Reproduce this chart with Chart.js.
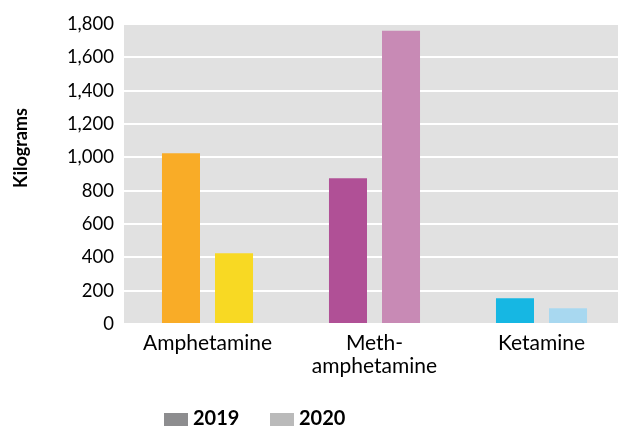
<!DOCTYPE html>
<html>
<head>
<meta charset="utf-8">
<script src="https://cdn.jsdelivr.net/npm/chart.js@4/dist/chart.umd.min.js"></script>
<style>
  html, body { margin: 0; padding: 0; background: #fff; overflow: hidden; }
  #wrap { width: 626px; height: 428px; }
</style>
</head>
<body>
<div id="wrap"><canvas id="chart" width="626" height="428"></canvas></div>
<script>
const categories = ['Amphetamine', ['Meth-', 'amphetamine'], 'Ketamine'];
const years = ['2019', '2020'];
const values2019 = [1025, 875, 155];
const values2020 = [425, 1760, 95];
const colors2019 = ['#f9ac27', '#b05096', '#16b7e3'];
const colors2020 = ['#f8d923', '#c88ab5', '#a8d8f0'];
const legendColors = ['#8d8d8f', '#bababa'];
const yTicks = { min: 0, max: 1800, step: 200 };

const font = 'Lato, "Open Sans", sans-serif';
const context = document.getElementById('chart').getContext('2d');

// grey plot area and a hand-drawn legend / axis title
const decor = {
    id: 'decor',
    beforeDraw(chart) {
        const { ctx, chartArea } = chart;
        ctx.save();
        ctx.fillStyle = '#e1e1e1';
        ctx.fillRect(chartArea.left, chartArea.top, chartArea.right - chartArea.left, chartArea.bottom - chartArea.top);
        ctx.restore();
    },
    afterDraw(chart) {
        const ctx = chart.ctx;
        ctx.save();
        ctx.fillStyle = '#000';
        ctx.font = 'bold 18px ' + font;
        ctx.textAlign = 'center';
        ctx.textBaseline = 'middle';
        ctx.translate(21, 148);
        ctx.rotate(-Math.PI / 2);
        ctx.fillText('Kilograms', 0, 0);
        ctx.restore();

        ctx.save();
        ctx.font = 'bold 20px ' + font;
        ctx.textBaseline = 'middle';
        const xs = [164, 270];
        chart.data.datasets.forEach((ds, i) => {
            ctx.fillStyle = legendColors[i];
            ctx.fillRect(xs[i], 413, 24, 13);
            ctx.fillStyle = '#000';
            ctx.fillText(ds.label, xs[i] + 29, 419);
        });
        ctx.restore();
    }
};

const data = {
    labels: categories,
    datasets: [{
        label: years[0],
        data: values2019,
        backgroundColor: colors2019,
        categoryPercentage: 0.635,
        barPercentage: 0.717
    }, {
        label: years[1],
        data: values2020,
        backgroundColor: colors2020,
        categoryPercentage: 0.635,
        barPercentage: 0.717
    }]
};

const config = {
    type: 'bar',
    data: data,
    options: {
        responsive: false,
        animation: false,
        layout: { padding: { top: 24, right: 1, left: 0, bottom: 0 } },
        scales: {
            x: {
                grid: { display: false, drawTicks: false },
                border: { display: false },
                ticks: {
                    color: '#000',
                    font: { family: font, size: 21, lineHeight: 1.12 },
                    padding: 7,
                    maxRotation: 0,
                    autoSkip: false
                },
                afterFit(scale) { scale.height = 104; }
            },
            y: {
                min: yTicks.min,
                max: yTicks.max,
                grid: { color: '#ffffff', lineWidth: 2, drawTicks: false },
                border: { display: false },
                ticks: {
                    stepSize: yTicks.step,
                    color: '#000',
                    padding: 10,
                    font: { family: font, size: 18.5 },
                    callback: (v) => v.toLocaleString('en-US')
                },
                afterFit(scale) { scale.width = 124; }
            }
        },
        plugins: {
            legend: { display: false },
            tooltip: { enabled: false }
        }
    },
    plugins: [decor]
};

const chart = new Chart(context, config);
</script>
</body>
</html>
